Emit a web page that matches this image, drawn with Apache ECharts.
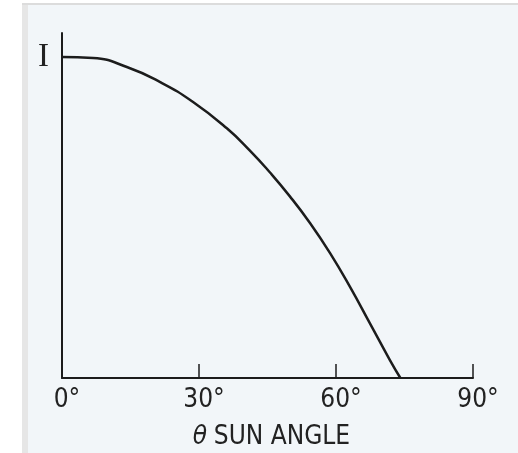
<!DOCTYPE html>
<html>
<head>
<meta charset="utf-8">
<script src="https://cdn.jsdelivr.net/npm/echarts@6/dist/echarts.min.js"></script>
<style>
html,body{margin:0;padding:0;background:#ffffff;}
#chart{width:518px;height:453px;}
</style>
</head>
<body>
<div id="chart"></div>
<script>
// Sun angle (degrees) and relative intensity
var sunAngles = [0, 6.8, 14.2, 21.5, 28.7, 36.1, 41.2, 45.5, 49.9, 54.3, 58.7, 63.1, 67.4, 71.8, 74.1];
var intensity = [1.0, 0.997, 0.969, 0.922, 0.860, 0.778, 0.708, 0.641, 0.566, 0.483, 0.389, 0.283, 0.171, 0.056, 0];
var xTickValues = [0, 30, 60, 90];
var xTickLabels = ['0°', '30°', '60°', '90°'];
var yLabelValue = 1;
var yLabelText = 'I';
var xAxisTitleSymbol = 'θ';
var xAxisTitleText = 'SUN ANGLE';

var points = sunAngles.map(function (a, i) { return [a, intensity[i]]; });

var chart = echarts.init(document.getElementById('chart'), null, {renderer: 'canvas'});
var ink = '#1c1c1c';
var sans = '"Liberation Sans Narrow", "DejaVu Sans Condensed", sans-serif';
var option = {
  backgroundColor: '#ffffff',
  animation: false,
  graphic: [
    {type: 'rect', z: -10, silent: true, shape: {x: 22, y: 4, width: 496, height: 449}, style: {fill: '#f2f6f9'}},
    {type: 'rect', z: -9, silent: true, shape: {x: 22, y: 3, width: 496, height: 2}, style: {fill: '#dcdcdc'}},
    {type: 'rect', z: -9, silent: true, shape: {x: 22, y: 5, width: 6, height: 448}, style: {fill: '#e6e6e6'}}
  ],
  grid: {left: 62, right: 45, top: 33, bottom: 75, containLabel: false, outerBoundsMode: 'none'},
  xAxis: {
    type: 'value',
    min: 0, max: 90, interval: 30,
    axisLine: {show: true, lineStyle: {color: ink, width: 2}},
    axisTick: {show: true, inside: true, length: 14, lineStyle: {color: ink, width: 1.5}},
    splitLine: {show: false},
    axisLabel: {
      margin: 9,
      color: '#222',
      fontSize: 26,
      fontFamily: sans,
      padding: [0, 0, 0, 10],
      formatter: function (v) {
        var i = xTickValues.indexOf(v);
        return i >= 0 ? xTickLabels[i] : '';
      }
    },
    name: '{t|' + xAxisTitleSymbol + '}  {s|' + xAxisTitleText + '}',
    nameLocation: 'middle',
    nameGap: 46,
    nameTextStyle: {
      padding: [0, 0, 0, 8],
      rich: {
        t: {fontSize: 26, fontStyle: 'italic', fontFamily: sans, color: '#222'},
        s: {fontSize: 26, fontFamily: sans, color: '#222'}
      }
    }
  },
  yAxis: {
    type: 'value',
    min: 0, max: 1.075, interval: 0.5,
    axisLine: {show: true, lineStyle: {color: ink, width: 2}},
    axisTick: {show: false},
    splitLine: {show: false},
    axisLabel: {
      showMaxLabel: false,
      margin: 13,
      color: '#222',
      fontSize: 33,
      fontFamily: '"Liberation Serif", "DejaVu Serif", serif',
      padding: [0, 0, 14, 0],
      formatter: function (v) { return Math.abs(v - yLabelValue) < 1e-9 ? yLabelText : ''; }
    }
  },
  series: [{
    type: 'line',
    data: points,
    smooth: 0.5,
    showSymbol: false,
    lineStyle: {color: ink, width: 2.5}
  }]
};
chart.setOption(option);
</script>
</body>
</html>
